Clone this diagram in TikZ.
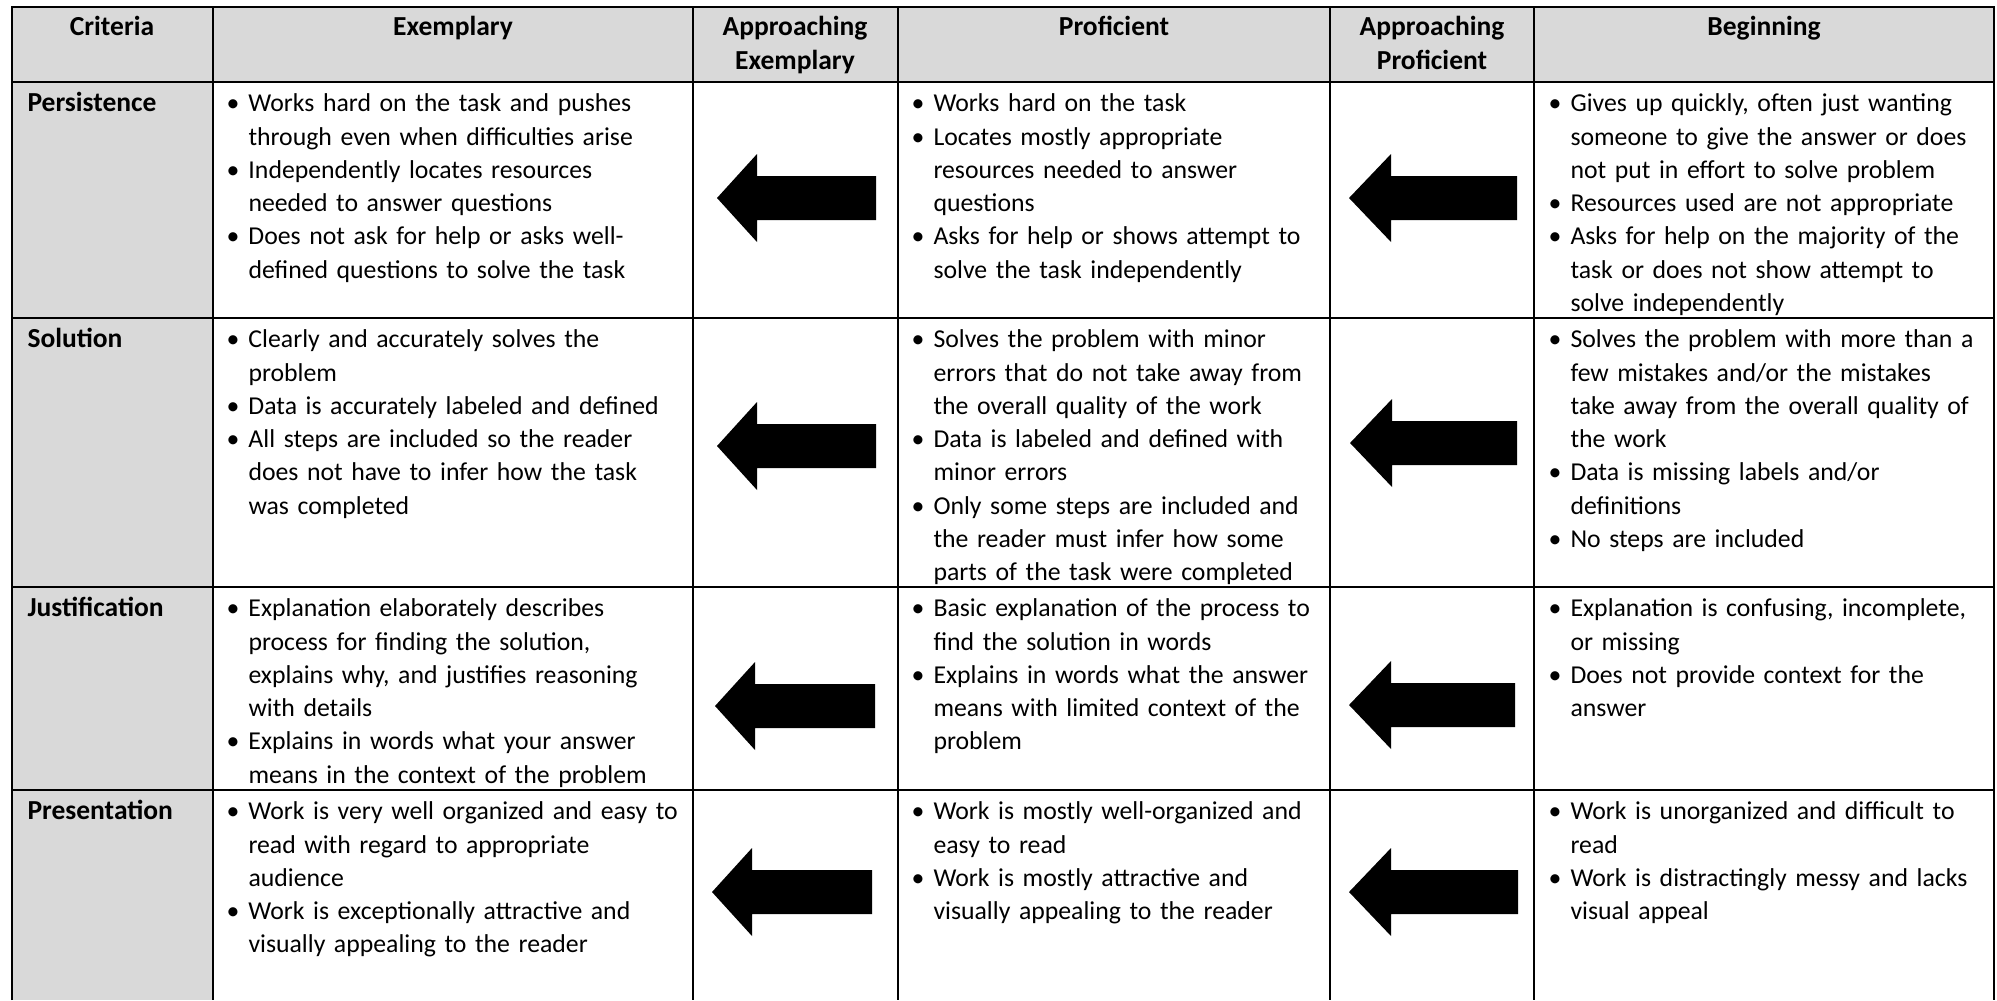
\documentclass[tikz,border=0pt]{standalone}
\usepackage{fontspec}
\setmainfont{Carlito}
\usepackage{tikz}
\usetikzlibrary{positioning}
\definecolor{headgray}{HTML}{D9D9D9}
\newcommand{\cellfont}{\fontsize{10.3}{13.3}\selectfont}
\newcommand{\headfont}{\fontsize{11}{13.4}\selectfont}
\newcommand{\pnt}{\hangindent=8.8pt\hangafter=1\noindent\makebox[8.8pt][l]{\textbullet}\strut}
\newcommand{\nxt}{\par\pnt}
\newcommand{\brk}{\newline}
\newcommand{\backarrow}[4]{\fill (#1,#2) -- ++(#3,-44) -- ++(0,22) -- ++(#4,0) -- ++(0,44) -- ++(-#4,0) -- ++(0,22) -- cycle;}
\tikzset{
x=0.4pt, y=-0.4pt, % one unit is one pixel of the sheet, y runs down
grid/.style={line width=1.1pt, black}, % the rules of the table
head/.style={font=\bfseries\headfont, align=center, inner sep=0pt, anchor=north}, % column titles
crit/.style={font=\bfseries\headfont, inner sep=0pt, anchor=north west}, % row titles
cell/.style={font=\cellfont, text width=215pt, inner sep=0pt, anchor=north west}, % bullet lists
}

\begin{document}
\begin{tikzpicture}
\useasboundingbox (0,0) rectangle (1997,1000);

% shading and rules
\fill[headgray] (12,7) rectangle (1994,82);
\fill[headgray] (12,82) rectangle (213,1000);
\draw[grid] (12,1000) -- (12,7) -- (1994,7) -- (1994,1000);
\draw[grid] (12,82) -- (1994,82) (12,318) -- (1994,318) (12,587) -- (1994,587) (12,790) -- (1994,790);
\draw[grid] (213,7) -- (213,1000) (693,7) -- (693,1000) (898,7) -- (898,1000)
            (1330,7) -- (1330,1000) (1534,7) -- (1534,1000);

% column titles
\node[head] (hcrit) at (112,12) {\strut Criteria};
\node[head] (hex) at (453,12) {\strut Exemplary};
\node[head] (hae) at (795,12) {\strut Approaching\\Exemplary};
\node[head] (hpr) at (1114,12) {\strut Proficient};
\node[head] (hap) at (1432,12) {\strut Approaching\\Proficient};
\node[head] (hbg) at (1764,12) {\strut Beginning};

% row titles
\node[crit] (persist) at (27,88) {\strut Persistence};
\node[crit] (solution) at (27,324) {\strut Solution};
\node[crit] (justify) at (27,593) {\strut Justification};
\node[crit] (present) at (27,796) {\strut Presentation};

% Persistence
\node[cell] (ex1) at (226,88) {\pnt Works hard on the task and pushes\brk through even when difficulties arise
  \nxt Independently locates resources\brk needed to answer questions
  \nxt Does not ask for help or asks well-\brk defined questions to solve the task\par};
\node[cell] (pr1) at (911,88) {\pnt Works hard on the task
  \nxt Locates mostly appropriate\brk resources needed to answer\brk questions
  \nxt Asks for help or shows attempt to\brk solve the task independently\par};
\node[cell] (bg1) at (1548,88) {\pnt Gives up quickly, often just wanting\brk someone to give the answer or does\brk not put in effort to solve problem
  \nxt Resources used are not appropriate
  \nxt Asks for help on the majority of the\brk task or does not show attempt to\brk solve independently\par};

% Solution
\node[cell] (ex2) at (226,324) {\pnt Clearly and accurately solves the\brk problem
  \nxt Data is accurately labeled and defined
  \nxt All steps are included so the reader\brk does not have to infer how the task\brk was completed\par};
\node[cell] (pr2) at (911,324) {\pnt Solves the problem with minor\brk errors that do not take away from\brk the overall quality of the work
  \nxt Data is labeled and defined with\brk minor errors
  \nxt Only some steps are included and\brk the reader must infer how some\brk parts of the task were completed\par};
\node[cell] (bg2) at (1548,324) {\pnt Solves the problem with more than a\brk few mistakes and/or the mistakes\brk take away from the overall quality of\brk the work
  \nxt Data is missing labels and/or\brk definitions
  \nxt No steps are included\par};

% Justification
\node[cell] (ex3) at (226,593) {\pnt Explanation elaborately describes\brk process for finding the solution,\brk explains why, and justifies reasoning\brk with details
  \nxt Explains in words what your answer\brk means in the context of the problem\par};
\node[cell] (pr3) at (911,593) {\pnt Basic explanation of the process to\brk find the solution in words
  \nxt Explains in words what the answer\brk means with limited context of the\brk problem\par};
\node[cell] (bg3) at (1548,593) {\pnt Explanation is confusing, incomplete,\brk or missing
  \nxt Does not provide context for the\brk answer\par};

% Presentation
\node[cell] (ex4) at (226,796) {\pnt Work is very well organized and easy to\brk read with regard to appropriate\brk audience
  \nxt Work is exceptionally attractive and\brk visually appealing to the reader\par};
\node[cell] (pr4) at (911,796) {\pnt Work is mostly well-organized and\brk easy to read
  \nxt Work is mostly attractive and\brk visually appealing to the reader\par};
\node[cell] (bg4) at (1548,796) {\pnt Work is unorganized and difficult to\brk read
  \nxt Work is distractingly messy and lacks\brk visual appeal\par};

% arrows pointing back to the higher level
\backarrow{717}{198}{40}{119}
\backarrow{1349}{198}{42}{126}
\backarrow{717}{446}{40}{119}
\backarrow{1350}{443}{42}{125}
\backarrow{715}{706}{40}{120}
\backarrow{1349}{705}{42}{124}
\backarrow{712}{892}{40}{120}
\backarrow{1349}{892}{42}{127}
\end{tikzpicture}
\end{document}
